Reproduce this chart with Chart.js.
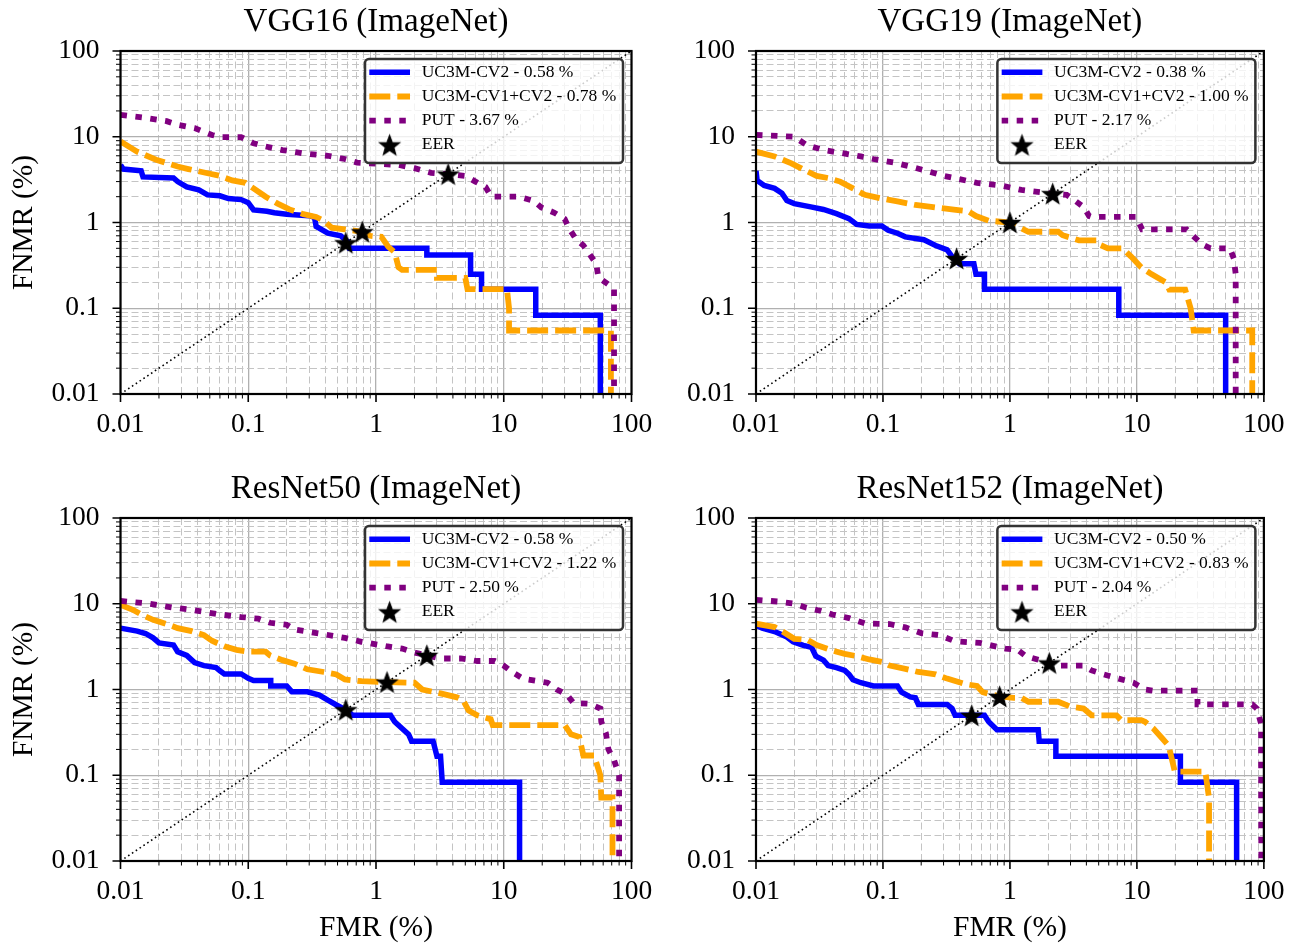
<!DOCTYPE html>
<html>
<head>
<meta charset="utf-8">
<title>DET curves - ImageNet backbones</title>
<script src="https://cdn.jsdelivr.net/npm/chart.js@4.4.1/dist/chart.umd.min.js"></script>
<style>
  html, body { margin: 0; padding: 0; background: #fff; }
  body { width: 1299px; height: 946px; position: relative; overflow: hidden; }
  .panel { position: absolute; }
</style>
</head>
<body>
<div class="panel" style="left:0px;top:0px;width:680px;height:470px"><canvas id="c0"></canvas></div>
<div class="panel" style="left:640px;top:0px;width:659px;height:470px"><canvas id="c1"></canvas></div>
<div class="panel" style="left:0px;top:466px;width:680px;height:480px"><canvas id="c2"></canvas></div>
<div class="panel" style="left:640px;top:466px;width:659px;height:480px"><canvas id="c3"></canvas></div>
<script>
// ---- data (FMR %, FNMR %) ----
const panelTitles = ['VGG16 (ImageNet)', 'VGG19 (ImageNet)', 'ResNet50 (ImageNet)', 'ResNet152 (ImageNet)'];
const seriesNames = ['UC3M-CV2', 'UC3M-CV1+CV2', 'PUT'];
const tickLabels = ['0.01', '0.1', '1', '10', '100'];
const decades = [0.01, 0.1, 1, 10, 100];
const minorSteps = [2, 3, 4, 5, 6, 7, 8, 9];

// 0.0001 stands for "drops to zero" (below the axis)
const vgg16Cv2 = [[0.01,4.7],[0.0105,4.2],[0.0145,4.0],[0.015,3.4],[0.026,3.3],[0.028,3.0],[0.033,2.6],[0.041,2.4],[0.048,2.1],[0.06,2.05],[0.07,1.9],[0.088,1.85],[0.1,1.7],[0.11,1.4],[0.14,1.35],[0.16,1.3],[0.2,1.25],[0.3,1.2],[0.33,1.15],[0.34,0.9],[0.42,0.75],[0.53,0.7],[0.6,0.6],[0.62,0.5],[2.5,0.5],[2.5,0.417],[5.5,0.417],[5.5,0.25],[6.7,0.25],[6.7,0.167],[17.8,0.167],[17.8,0.083],[57,0.083],[57,0.0001]];
const vgg16Cv12 = [[0.01,8.8],[0.0135,6.7],[0.019,5.4],[0.028,4.5],[0.034,4.2],[0.048,3.75],[0.06,3.5],[0.075,3.1],[0.095,2.9],[0.11,2.5],[0.137,2.0],[0.17,1.66],[0.21,1.42],[0.27,1.25],[0.34,1.16],[0.39,1.05],[0.45,0.87],[0.57,0.83],[0.78,0.78],[0.9,0.7],[1.1,0.68],[1.25,0.52],[1.4,0.45],[1.5,0.3],[1.6,0.28],[3.0,0.28],[3.0,0.226],[5.0,0.226],[5.2,0.167],[10.6,0.167],[11,0.1],[11,0.055],[69,0.055],[69,0.0001]];
const vgg16Put = [[0.01,18],[0.0157,16.6],[0.023,15.2],[0.028,13.8],[0.038,12.6],[0.052,10.5],[0.06,9.9],[0.088,9.9],[0.11,8.4],[0.137,7.7],[0.185,7.0],[0.27,6.4],[0.42,6.0],[0.57,5.5],[0.71,5.0],[1.1,4.8],[1.5,4.7],[2.0,4.3],[2.7,3.8],[3.67,3.67],[5.0,3.5],[6.0,3.0],[7.2,2.6],[8.0,2.0],[13.2,2.0],[17.2,1.78],[19.7,1.5],[24.9,1.3],[30,1.1],[32.5,0.85],[36.5,0.65],[42,0.54],[53,0.33],[55,0.23],[73,0.17],[73,0.0001]];
const vgg16Eer = [0.58, 0.78, 3.67];

const vgg19Cv2 = [[0.01,4.0],[0.0102,3.1],[0.0116,2.7],[0.014,2.5],[0.016,2.2],[0.0175,1.8],[0.02,1.66],[0.027,1.52],[0.034,1.42],[0.043,1.27],[0.054,1.11],[0.062,0.95],[0.078,0.91],[0.098,0.91],[0.11,0.81],[0.13,0.75],[0.15,0.68],[0.21,0.63],[0.26,0.54],[0.32,0.48],[0.36,0.38],[0.4,0.33],[0.52,0.33],[0.54,0.25],[0.63,0.25],[0.63,0.167],[7.2,0.167],[7.2,0.083],[50,0.083],[50,0.0001]];
const vgg19Cv12 = [[0.01,6.7],[0.014,5.9],[0.019,4.9],[0.024,4.1],[0.03,3.5],[0.037,3.3],[0.046,3.0],[0.058,2.5],[0.072,2.1],[0.098,1.9],[0.13,1.76],[0.18,1.6],[0.24,1.52],[0.375,1.4],[0.47,1.35],[0.54,1.19],[0.68,1.05],[1.0,1.0],[1.16,0.89],[1.4,0.78],[2.4,0.78],[2.6,0.71],[3.5,0.62],[4.8,0.62],[5.1,0.55],[5.9,0.5],[7.7,0.5],[9,0.4],[10.8,0.3],[13,0.25],[16.9,0.2],[18,0.165],[24,0.165],[26.5,0.1],[28,0.055],[81,0.055],[81,0.0001]];
const vgg19Put = [[0.01,10.5],[0.02,10],[0.025,8.0],[0.034,7.0],[0.046,6.5],[0.067,5.9],[0.084,5.5],[0.122,5.0],[0.164,4.5],[0.22,4.0],[0.3,3.5],[0.4,3.2],[0.55,2.9],[0.85,2.7],[1.23,2.4],[2.17,2.17],[2.8,2.1],[3.2,1.83],[3.8,1.52],[4.2,1.19],[4.4,1.16],[9.9,1.16],[11,0.83],[24.6,0.83],[28.5,0.67],[33,0.55],[38,0.5],[54,0.5],[58,0.38],[60,0.25],[60,0.0001]];
const vgg19Eer = [0.38, 1.00, 2.17];

const res50Cv2 = [[0.01,5.2],[0.0135,4.8],[0.0157,4.5],[0.018,4.0],[0.02,3.5],[0.026,3.3],[0.028,2.76],[0.033,2.5],[0.038,2.06],[0.045,1.9],[0.056,1.8],[0.06,1.65],[0.065,1.52],[0.088,1.52],[0.1,1.35],[0.11,1.27],[0.15,1.27],[0.15,1.1],[0.2,1.1],[0.22,0.94],[0.29,0.94],[0.36,0.86],[0.42,0.75],[0.49,0.66],[0.58,0.58],[0.66,0.5],[1.3,0.5],[1.4,0.42],[1.6,0.35],[1.8,0.3],[1.9,0.25],[2.8,0.25],[3.0,0.167],[3.2,0.167],[3.3,0.083],[13.3,0.083],[13.3,0.0001]];
const res50Cv12 = [[0.01,9.7],[0.0125,8.5],[0.0145,7.5],[0.018,6.5],[0.023,5.8],[0.028,5.2],[0.036,4.8],[0.045,4.3],[0.052,3.7],[0.065,3.2],[0.081,2.9],[0.1,2.76],[0.137,2.76],[0.148,2.5],[0.185,2.2],[0.23,2.0],[0.29,1.72],[0.39,1.6],[0.49,1.5],[0.57,1.31],[0.77,1.25],[1.22,1.22],[2.0,1.2],[2.3,1.0],[3.2,0.9],[4.3,0.81],[4.8,0.75],[5.3,0.57],[6.2,0.5],[7.9,0.45],[8.2,0.385],[30,0.385],[33.6,0.3],[39,0.28],[42,0.17],[51,0.17],[57,0.1],[58,0.055],[71,0.055],[71,0.0001]];
const res50Put = [[0.01,10.8],[0.017,10.0],[0.026,9.0],[0.036,8.5],[0.056,7.6],[0.088,7.0],[0.12,6.7],[0.148,6.0],[0.2,5.7],[0.23,5.0],[0.36,4.5],[0.57,4.0],[0.77,3.6],[1.2,3.2],[1.6,3.0],[2.0,2.7],[2.5,2.5],[3.2,2.3],[4.6,2.3],[6.2,2.15],[8.5,2.15],[10,1.9],[11.6,1.6],[14.3,1.33],[22,1.2],[26,1.0],[31,0.88],[35,0.7],[47,0.68],[57,0.6],[58,0.42],[63,0.31],[66,0.2],[73,0.15],[80,0.1],[80,0.0001]];
const res50Eer = [0.58, 1.22, 2.50];

const res152Cv2 = [[0.01,5.6],[0.0112,5.2],[0.014,4.75],[0.0175,4.1],[0.0196,3.6],[0.0236,3.27],[0.0274,3.1],[0.0296,2.45],[0.034,2.2],[0.037,1.9],[0.043,1.8],[0.05,1.67],[0.054,1.5],[0.058,1.3],[0.067,1.2],[0.084,1.1],[0.13,1.1],[0.14,0.93],[0.164,0.82],[0.18,0.8],[0.19,0.67],[0.32,0.67],[0.35,0.6],[0.37,0.5],[0.63,0.5],[0.68,0.42],[0.79,0.34],[1.67,0.34],[1.7,0.25],[2.3,0.25],[2.3,0.167],[22,0.167],[22,0.083],[61,0.083],[61,0.0001]];
const res152Cv12 = [[0.01,5.85],[0.014,5.35],[0.016,4.8],[0.02,3.9],[0.0254,3.8],[0.03,3.3],[0.04,2.85],[0.05,2.6],[0.062,2.45],[0.078,2.24],[0.098,2.1],[0.113,1.9],[0.15,1.74],[0.19,1.6],[0.26,1.5],[0.32,1.34],[0.44,1.16],[0.55,1.1],[0.61,0.93],[0.83,0.83],[1.07,0.8],[1.23,0.8],[1.4,0.72],[2.4,0.72],[3.0,0.63],[3.8,0.6],[4.4,0.5],[6.9,0.5],[7.5,0.44],[10.8,0.44],[11.6,0.42],[13.5,0.35],[15.8,0.27],[17.8,0.22],[19.9,0.11],[34.6,0.11],[37,0.054],[37,0.0001]];
const res152Put = [[0.01,11.1],[0.015,10.6],[0.02,10],[0.025,9.0],[0.032,8.3],[0.04,7.5],[0.054,6.8],[0.072,5.9],[0.113,5.8],[0.15,5.3],[0.2,4.55],[0.28,4.3],[0.37,3.65],[0.58,3.5],[0.92,3.0],[1.15,2.9],[1.33,2.45],[2.04,2.04],[2.3,1.9],[3.8,1.9],[4.4,1.67],[5.5,1.5],[7.2,1.34],[9.4,1.2],[11.6,1.0],[13.5,0.97],[30,0.97],[30,0.67],[81,0.67],[88,0.6],[95,0.4],[96,0.0001]];
const res152Eer = [0.50, 0.83, 2.04];

const diagonal = [[0.01, 0.01], [100, 100]];

const panelSeries = [
  [vgg16Cv2, vgg16Cv12, vgg16Put],
  [vgg19Cv2, vgg19Cv12, vgg19Put],
  [res50Cv2, res50Cv12, res50Put],
  [res152Cv2, res152Cv12, res152Put]
];
const panelEer = [vgg16Eer, vgg19Eer, res50Eer, res152Eer];

// ---- styles ----
const SERIF = '"Liberation Serif", "Times New Roman", serif';
Chart.defaults.font.family = SERIF;
Chart.defaults.color = '#000';

const lineStyles = [
  { color: '#0000ff', dash: [], width: 5.5 },
  { color: '#ffa500', dash: [21, 7], width: 5.8 },
  { color: '#800080', dash: [6.5, 8.5], width: 5.8 }
];

// tick positions: every decade plus 2..9 in between
const tickValues = [];
decades.forEach((d, i) => {
  tickValues.push(d);
  if (i < decades.length - 1) minorSteps.forEach(m => tickValues.push(+(d * m).toPrecision(3)));
});
function isMajor(v) {
  return decades.some(d => Math.abs(v / d - 1) < 1e-6);
}
function majorLabel(v) {
  const i = decades.findIndex(d => Math.abs(v / d - 1) < 1e-6);
  return i >= 0 ? tickLabels[i] : '';
}

// filled five point star used for EER markers
function makeStar(r) {
  const c = document.createElement('canvas');
  const s = Math.ceil(r * 2 + 6);
  c.width = s; c.height = s;
  const g = c.getContext('2d');
  g.translate(s / 2, s / 2 + r * 0.1);
  g.beginPath();
  for (let i = 0; i < 10; i++) {
    const rad = i % 2 ? r * 0.42 : r;
    const a = -Math.PI / 2 + i * Math.PI / 5;
    g.lineTo(rad * Math.cos(a), rad * Math.sin(a));
  }
  g.closePath();
  g.fillStyle = '#000';
  g.fill();
  g.lineWidth = 1.2;
  g.lineJoin = 'miter';
  g.strokeStyle = '#000';
  g.stroke();
  return c;
}
const starImg = makeStar(10.5);

// tick marks, frame and the legend box
const framePlugin = {
  id: 'frameAndLegend',
  afterDatasetsDraw(chart, args, opts) {
    const { ctx, chartArea: a, scales: { x, y } } = chart;
    ctx.save();
    ctx.strokeStyle = '#000';
    tickValues.forEach(v => {
      const major = isMajor(v);
      const len = major ? 8 : 4.5;
      ctx.lineWidth = major ? 1.6 : 1;
      const px = x.getPixelForValue(v);
      const py = y.getPixelForValue(v);
      ctx.beginPath();
      ctx.moveTo(px, a.bottom); ctx.lineTo(px, a.bottom + len);
      ctx.moveTo(a.left, py); ctx.lineTo(a.left - len, py);
      ctx.stroke();
    });
    ctx.lineWidth = 2.2;
    ctx.strokeRect(a.left, a.top, a.right - a.left, a.bottom - a.top);

    // legend
    const boxW = 258, boxH = 104;
    const bx = a.right - 8.5 - boxW, by = a.top + 8;
    ctx.beginPath();
    ctx.roundRect(bx, by, boxW, boxH, 4);
    ctx.fillStyle = 'rgba(255,255,255,0.8)';
    ctx.fill();
    ctx.lineWidth = 2.5;
    ctx.strokeStyle = '#333';
    ctx.stroke();

    ctx.font = '17.5px ' + SERIF;
    ctx.textBaseline = 'middle';
    ctx.textAlign = 'left';
    const eer = opts.eer;
    seriesNames.forEach((name, i) => {
      const ry = by + 13.3 + i * 24.2;
      const st = lineStyles[i];
      ctx.beginPath();
      ctx.strokeStyle = st.color;
      ctx.lineWidth = st.width;
      ctx.setLineDash(st.dash);
      ctx.lineCap = 'butt';
      ctx.moveTo(bx + 4.3, ry);
      ctx.lineTo(bx + 45, ry);
      ctx.stroke();
      ctx.setLineDash([]);
      ctx.fillStyle = '#000';
      ctx.fillText(name + ' - ' + eer[i].toFixed(2) + ' %', bx + 56.7, ry);
    });
    const ry = by + 13.3 + 3 * 24.2;
    ctx.drawImage(starImg, bx + 24.6 - starImg.width / 2, ry - starImg.height / 2);
    ctx.fillText('EER', bx + 56.7, ry);
    ctx.restore();
  }
};

// layout of each panel inside its canvas
const panelLayout = [
  { id: 'c0', yTitle: true,  xTitle: false, yWidth: 120.5, padRight: 48.5, titlePad: { top: 2.4, bottom: 9 },   xHeight: 76 },
  { id: 'c1', yTitle: false, xTitle: false, yWidth: 116,   padRight: 32,   titlePad: { top: 2.4, bottom: 9 },   xHeight: 76 },
  { id: 'c2', yTitle: true,  xTitle: true,  yWidth: 120.5, padRight: 48.5, titlePad: { top: 3.9, bottom: 8.5 }, xHeight: 85 },
  { id: 'c3', yTitle: false, xTitle: true,  yWidth: 116,   padRight: 32,   titlePad: { top: 3.9, bottom: 8.5 }, xHeight: 85 }
];

function logAxis(extra, tickPad) {
  return Object.assign({
    type: 'logarithmic',
    min: 0.01,
    max: 100,
    afterBuildTicks: (axis) => { axis.ticks = tickValues.map(v => ({ value: v, major: isMajor(v) })); },
    ticks: {
      autoSkip: false,
      maxRotation: 0,
      padding: tickPad,
      font: { size: 27.5 },
      color: '#000',
      callback: (v) => majorLabel(v)
    },
    grid: {
      drawTicks: false,
      color: (c) => (c.tick && isMajor(c.tick.value)) ? '#b0b0b0' : '#c4c4c4',
      lineWidth: (c) => (c.tick && isMajor(c.tick.value)) ? 1.3 : 1
    },
    border: {
      display: false,
      dash: (c) => (c.tick && !isMajor(c.tick.value)) ? [7, 3.5] : []
    }
  }, extra);
}

panelLayout.forEach((p, k) => {
  const datasets = [];
  panelSeries[k].forEach((pts, i) => {
    const st = lineStyles[i];
    datasets.push({
      label: seriesNames[i],
      data: pts.map(q => ({ x: q[0], y: q[1] })),
      showLine: true,
      borderColor: st.color,
      borderWidth: st.width,
      borderDash: st.dash,
      borderCapStyle: 'butt',
      pointRadius: 0,
      tension: 0,
      fill: false,
      clip: 0,
      order: 4 - i
    });
  });
  datasets.push({
    label: 'diagonal',
    data: diagonal.map(q => ({ x: q[0], y: q[1] })),
    showLine: true,
    borderColor: '#000',
    borderWidth: 1.6,
    borderDash: [1.6, 3],
    pointRadius: 0,
    clip: 0,
    order: 1
  });
  datasets.push({
    label: 'EER',
    data: panelEer[k].map(v => ({ x: v, y: v })),
    showLine: false,
    pointStyle: starImg,
    pointRadius: 10,
    order: 0
  });

  new Chart(document.getElementById(p.id), {
    type: 'scatter',
    data: { datasets },
    options: {
      responsive: true,
      maintainAspectRatio: false,
      animation: false,
      events: [],
      layout: { padding: { left: 0, right: p.padRight, top: 0, bottom: 0 } },
      scales: {
        x: logAxis({
          position: 'bottom',
          afterFit: (s) => { s.height = p.xHeight; },
          title: {
            display: p.xTitle,
            text: 'FMR (%)',
            font: { size: 29.5 },
            color: '#000',
            padding: { top: 0, bottom: 0 }
          }
        }, 14.5),
        y: logAxis({
          position: 'left',
          afterFit: (s) => { s.width = p.yWidth; },
          title: {
            display: p.yTitle,
            text: 'FNMR (%)',
            font: { size: 29.5 },
            color: '#000',
            padding: { top: 6.5, bottom: 0 }
          }
        }, 21)
      },
      plugins: {
        legend: { display: false },
        tooltip: { enabled: false },
        title: {
          display: true,
          text: panelTitles[k],
          fullSize: false,
          color: '#000',
          font: { size: 33, weight: 'normal', lineHeight: 1.2 },
          padding: p.titlePad
        },
        frameAndLegend: { eer: panelEer[k] }
      }
    },
    plugins: [framePlugin]
  });
});
</script>
</body>
</html>
